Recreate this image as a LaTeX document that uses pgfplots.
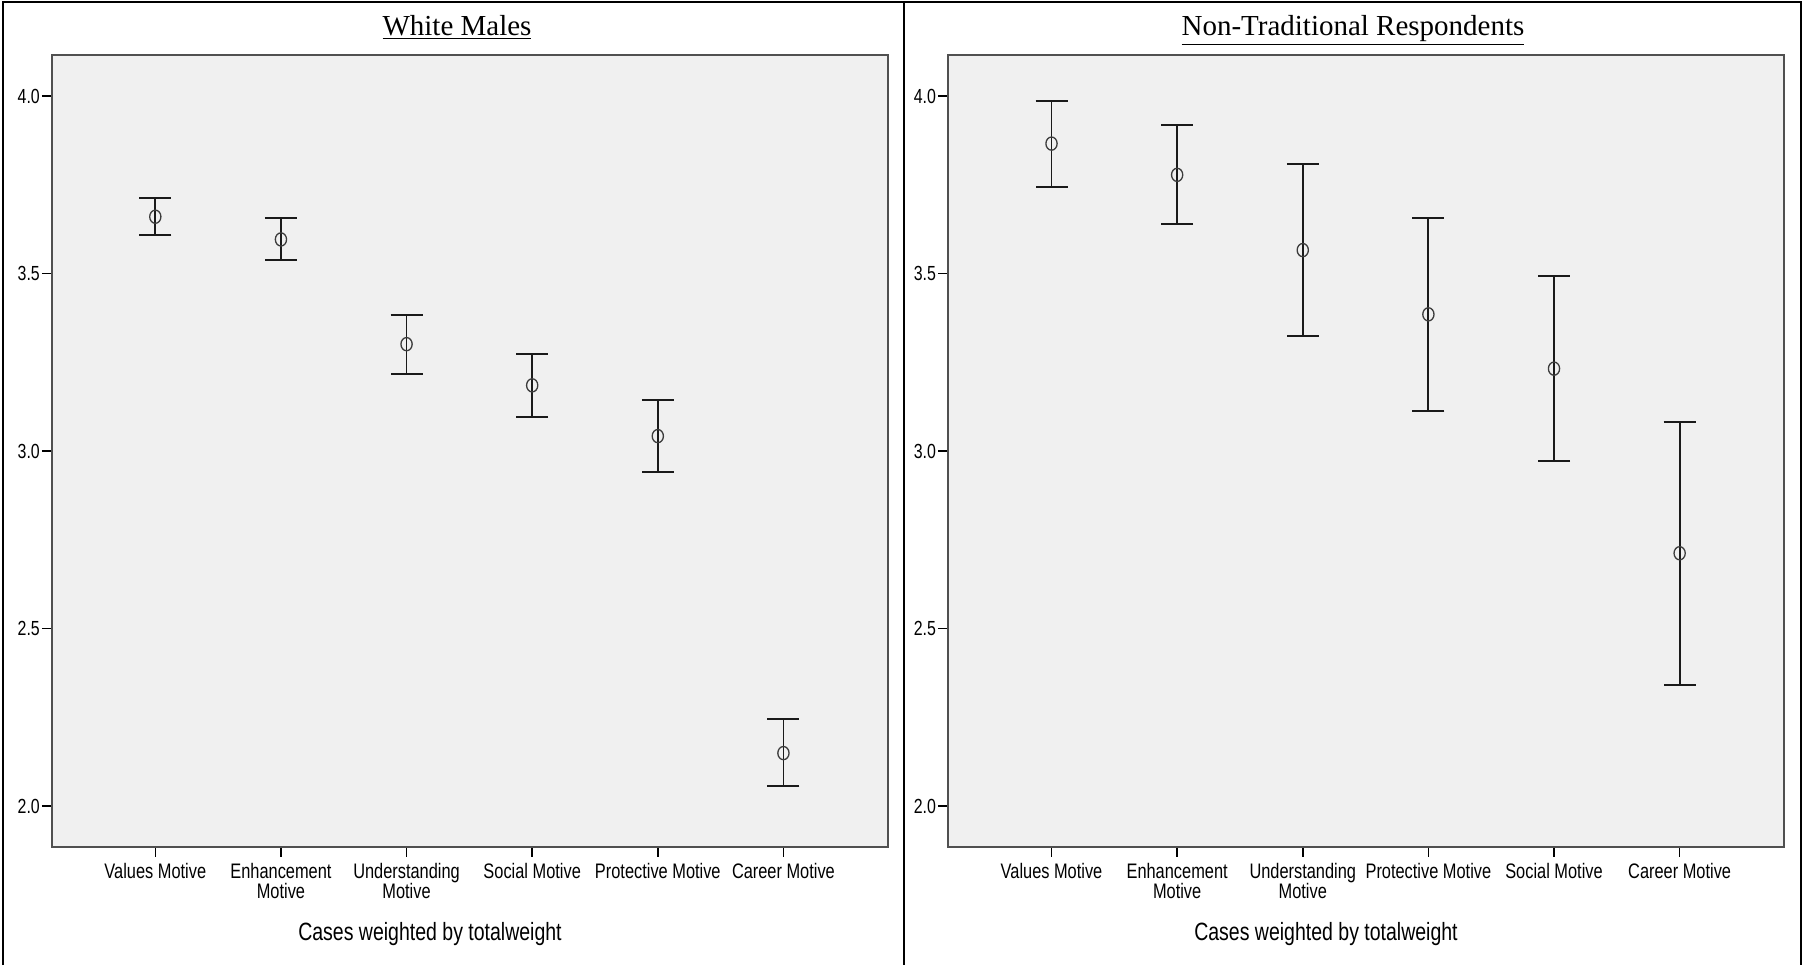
\documentclass[border=0pt]{standalone}
\usepackage{fontspec}
\setmainfont[FakeStretch=0.78]{Liberation Sans}
\newfontfamily\titlefont{Liberation Serif}
\usepackage{pgfplots}
\pgfplotsset{compat=1.18}
\definecolor{bg}{HTML}{F0F0F0}
\definecolor{axc}{HTML}{505050}
\definecolor{barc}{HTML}{1A1A1A}

\pgfplotstableread{
x y ep em
0 3.660 0.052 0.051
1 3.596 0.059 0.059
2 3.301 0.083 0.084
3 3.185 0.089 0.089
4 3.042 0.103 0.101
5 2.149 0.095 0.094
}\whitemales

\pgfplotstableread{
x y ep em
0 3.866 0.119 0.121
1 3.778 0.141 0.139
2 3.566 0.242 0.242
3 3.385 0.270 0.272
4 3.232 0.261 0.259
5 2.712 0.370 0.370
}\nontrad

\pgfplotsset{spss/.style={
  scale only axis, width=418.2pt, height=395.8pt, anchor=north west,
  xmin=-0.824, xmax=5.834, ymin=1.885, ymax=4.115,
  axis background/.style={fill=bg},
  axis line style={draw=axc, line width=1pt},
  xtick={0,...,5}, ytick={2,2.5,3,3.5,4},
  tick align=outside, major tick length=5pt,
  tick style={black, line width=0.8pt},
  xtick pos=bottom, ytick pos=left,
  /pgf/number format/fixed, /pgf/number format/fixed zerofill,
  /pgf/number format/precision=1, /pgf/number format/assume math mode=true,
  yticklabel style={font=\fontsize{10.2}{12}\selectfont, inner sep=0.8pt},
  xticklabel style={font=\fontsize{10.5}{10}\selectfont, align=center, inner sep=2pt, yshift=-1pt},
  clip=false,
}}

\pgfplotsset{spssplot/.style={
  barc, line width=0.9pt, only marks, mark=o, mark size=3.3pt,
  mark options={xscale=0.85, line width=0.65pt, draw=barc!85},
  error bars/.cd, y dir=both, y explicit, error mark=|,
  error mark options={line width=1pt, mark size=8pt, barc},
  error bar style={line width=0.9pt, barc}
}}

\begin{document}
\begin{tikzpicture}
\path[use as bounding box] (0,0) rectangle (902pt,-482.5pt);
\draw[line width=1.2pt] (1.5pt,-482.5pt) -- (1.5pt,-1pt) -- (900.5pt,-1pt) -- (900.5pt,-482.5pt);
\draw[line width=1pt] (452pt,-1pt) -- (452pt,-482.5pt);

\node[anchor=base, font=\titlefont\fontsize{14.5}{16}\selectfont] at (228.5pt,-17.5pt) {\underline{White Males}};
\node[anchor=base, font=\titlefont\fontsize{14.5}{16}\selectfont] at (676.5pt,-17.5pt) {\underline{Non-Traditional Respondents}};

\begin{axis}[spss, at={(25.9pt,-27.6pt)},
  xticklabels={{Values Motive},{Enhancement\\Motive},{Understanding\\Motive},{Social Motive},{Protective Motive},{Career Motive}}]
\addplot[spssplot] table[x=x, y=y, y error plus=ep, y error minus=em] {\whitemales};
\end{axis}

\begin{axis}[spss, at={(474pt,-27.6pt)},
  xticklabels={{Values Motive},{Enhancement\\Motive},{Understanding\\Motive},{Protective Motive},{Social Motive},{Career Motive}}]
\addplot[spssplot] table[x=x, y=y, y error plus=ep, y error minus=em] {\nontrad};
\end{axis}

\node[anchor=base, font=\fontsize{12.5}{14}\selectfont] at (215pt,-470pt) {Cases weighted by totalweight};
\node[anchor=base, font=\fontsize{12.5}{14}\selectfont] at (663pt,-470pt) {Cases weighted by totalweight};
\end{tikzpicture}
\end{document}
